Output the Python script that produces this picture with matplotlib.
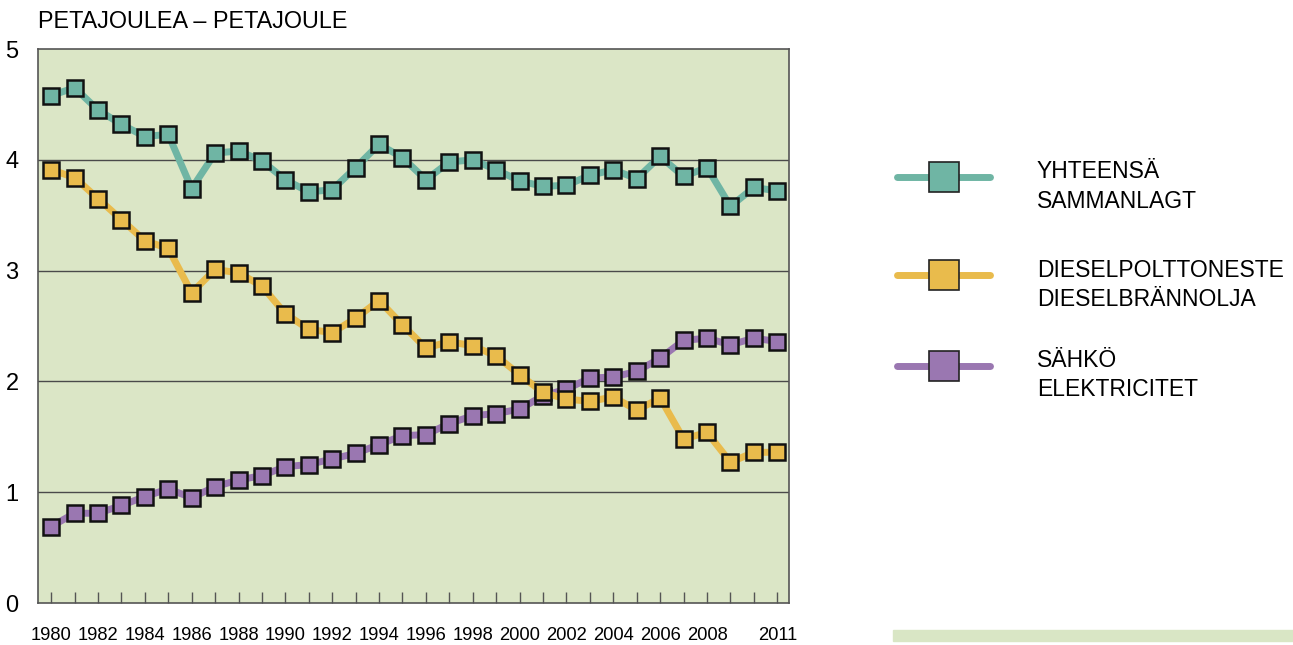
import matplotlib
matplotlib.use("Agg")
import matplotlib.pyplot as plt
from matplotlib.lines import Line2D

plt.rcParams['font.family'] = ['Liberation Sans', 'DejaVu Sans']

years = list(range(1980, 2012))
yhteensa = [4.58, 4.65, 4.45, 4.32, 4.21, 4.23, 3.74, 4.06, 4.08, 3.99,
            3.82, 3.71, 3.73, 3.93, 4.14, 4.02, 3.82, 3.98, 4.00, 3.91,
            3.81, 3.76, 3.77, 3.86, 3.91, 3.83, 4.03, 3.85, 3.93, 3.58,
            3.75, 3.72]
diesel = [3.91, 3.84, 3.65, 3.46, 3.27, 3.20, 2.80, 3.01, 2.98, 2.86,
          2.61, 2.47, 2.44, 2.57, 2.73, 2.51, 2.30, 2.36, 2.32, 2.23,
          2.06, 1.90, 1.84, 1.82, 1.86, 1.74, 1.85, 1.48, 1.54, 1.27,
          1.36, 1.36]
sahko = [0.69, 0.81, 0.81, 0.88, 0.96, 1.03, 0.95, 1.05, 1.11, 1.15,
         1.23, 1.25, 1.30, 1.35, 1.43, 1.51, 1.52, 1.62, 1.69, 1.71,
         1.75, 1.87, 1.93, 2.03, 2.04, 2.09, 2.21, 2.37, 2.39, 2.33,
         2.39, 2.36]
labelled_years = [1980, 1982, 1984, 1986, 1988, 1990, 1992, 1994, 1996, 1998,
                  2000, 2002, 2004, 2006, 2008, 2011]

series = [
    (yhteensa, '#6fb5a4', ['YHTEENSÄ', 'SAMMANLAGT']),
    (diesel, '#e9bb4c', ['DIESELPOLTTONESTE', 'DIESELBRÄNNOLJA']),
    (sahko, '#9a77b1', ['SÄHKÖ', 'ELEKTRICITET']),
]

fig = plt.figure(figsize=(12.93, 6.45), dpi=100)
ax = fig.add_axes([38/1293, 42/645, (789-38)/1293, (603-49)/645])
ax.set_facecolor('#dbe6c6')
ax.set_xlim(1979.44, 2011.5)
ax.set_ylim(0, 5)

for y in [1, 2, 3, 4]:
    ax.axhline(y, color='#4a4a4a', lw=1, zorder=1)

# total drawn last so it sits on top
for vals, col, lab in [series[2], series[1], series[0]]:
    ax.plot(years, vals, color=col, lw=5, marker='s', markersize=11.5,
            markerfacecolor=col, markeredgecolor='#111111', markeredgewidth=1.8,
            solid_joinstyle='round', solid_capstyle='round', zorder=3)

for s in ax.spines.values():
    s.set_color('#555555')
    s.set_linewidth(1.2)

ax.set_xticks(years)
ax.set_xticklabels([str(y) if y in labelled_years else '' for y in years])
ax.tick_params(axis='x', direction='in', length=8, color='#555555',
               width=1, pad=17, labelsize=13.2)
ax.set_yticks([0, 1, 2, 3, 4, 5])
ax.tick_params(axis='y', length=0, pad=14, labelsize=17)

fig.text(38/1293, 1 - 22/645, 'PETAJOULEA – PETAJOULE', fontsize=16.8,
         va='center', ha='left')

# legend
leg_y = [177, 275, 366]
for (vals, col, lab), py in zip(series, leg_y):
    yf = 1 - py/645
    fig.add_artist(Line2D([897/1293, 990/1293], [yf, yf], color=col, lw=5,
                          solid_capstyle='round', transform=fig.transFigure))
    fig.add_artist(Line2D([944/1293], [yf], marker='s', markersize=22,
                          markerfacecolor=col, markeredgecolor='#222222',
                          markeredgewidth=1.2, transform=fig.transFigure))
    fig.text(1037/1293, 1 - (py - 5)/645, lab[0], fontsize=16.5, va='center',
             ha='left')
    fig.text(1037/1293, 1 - (py + 24)/645, lab[1], fontsize=16.5, va='center',
             ha='left')

fig.add_artist(plt.Rectangle((893/1293, 1 - 641/645), 400/1293, 11/645,
                             color='#d9e6c5', transform=fig.transFigure))

fig.savefig('out.png', dpi=100)
